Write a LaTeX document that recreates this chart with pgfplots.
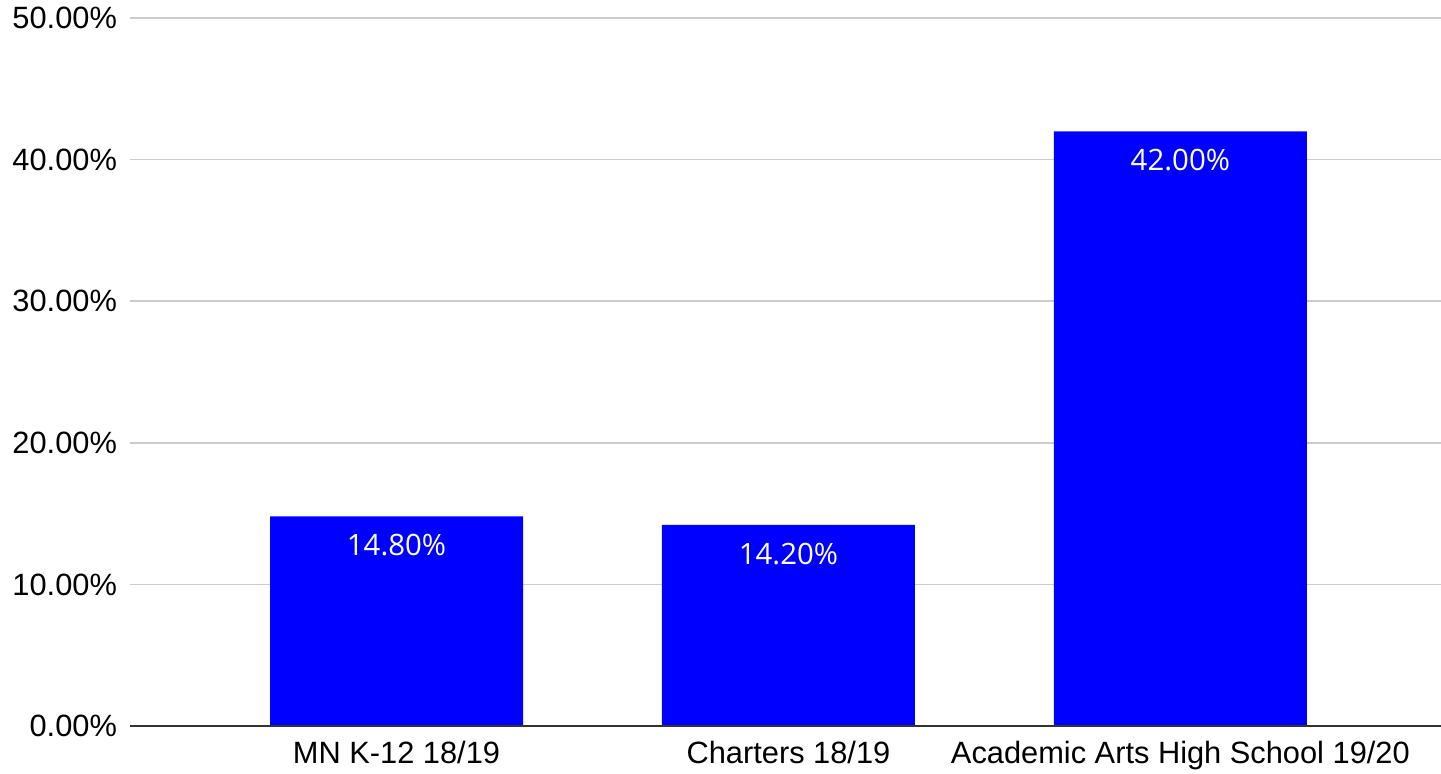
\documentclass[border=0pt]{standalone}
\usepackage{pgfplots}
\pgfplotsset{compat=1.18}
\usepackage{fontspec}
\setmainfont{Liberation Sans}
\newfontfamily\valfont{Open Sans}
\definecolor{barblue}{HTML}{0000FF}
\definecolor{gridgray}{HTML}{CCCCCC}
\definecolor{basegray}{HTML}{333333}
\begin{document}
\begin{tikzpicture}
\begin{axis}[
  scale only axis,
  width=655.5pt, height=354pt,
  xmin=-0.68, xmax=2.665,
  ymin=0, ymax=50,
  axis line style={draw=none},
  ymajorgrids,
  grid style={gridgray, line width=0.8pt},
  ytick={0,10,20,30,40,50},
  yticklabel={\pgfmathprintnumber[fixed,fixed zerofill,precision=2]{\tick}\%},
  xtick=data,
  xticklabels={MN K-12 18/19, Charters 18/19, Academic Arts High School 19/20},
  tick style={draw=none},
  ticklabel style={font=\fontsize{15.4}{18}\selectfont, text=black},
  yticklabel style={xshift=-3pt},
  xticklabel style={yshift=-4pt},
  /pgf/number format/assume math mode=true,
  clip=false,
]
\addplot[ybar, bar width=126.5pt, fill=barblue, draw=none,
  nodes near coords={\pgfmathprintnumber[fixed,fixed zerofill,precision=2]{\pgfplotspointmeta}\%},
  nodes near coords style={anchor=north, yshift=-5.5pt, text=white, font=\valfont\fontsize{14.7}{17}\selectfont, /pgf/number format/assume math mode=true},
  nodes near coords align={below},
] coordinates {(0,14.8) (1,14.2) (2,42.0)};
\draw[basegray, line width=1pt] (axis cs:-0.68,0) -- (axis cs:2.665,0);
\end{axis}
\pgfresetboundingbox
\path (-65pt,-23.5pt) rectangle (655.5pt,363pt);
\end{tikzpicture}
\end{document}
